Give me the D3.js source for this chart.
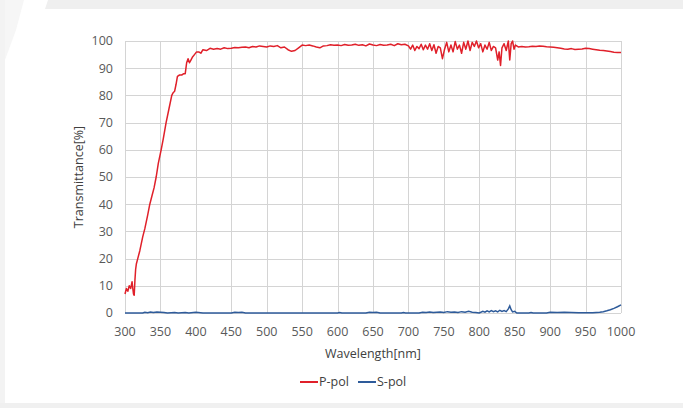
<!DOCTYPE html>
<html>
<head>
<meta charset="utf-8">
<title>Transmittance</title>
<style>
  body { margin: 0; background: #fff; }
  svg { display: block; font-family: "Open Sans", sans-serif; }
  .grid line { stroke: #d4d4d4; stroke-width: 1; }
  .tick-label { fill: #595959; font-size: 12.5px; }
  .axis-title { fill: #404040; font-size: 12.5px; }
</style>
</head>
<body>
<script src="https://cdn.jsdelivr.net/npm/d3@7"></script>
<script>
  // P-pol: [wavelength nm, transmittance %]
  var pPol = [
    [300,7],[302,9],[304,8],[306,10],[308,9],[310,11.5],[311,9],[312,7],[313,6.5],[314,12],[315,16],
    [316,18],[318,20],[321,23],[325,28],[328,31],[332,36],[335,40],[338,43],[341,46],[344,50],
    [347,55],[351,60],[354,64],[358,70],[362,75],[366,80],[368,81],[370,81.5],[372,84],[374,87],
    [377,87.5],[380,87.5],[383,88],[385,88],[387,92],[389,93.5],[391,92],[393,93],[395,94],
    [398,95],[401,96],[404,96],[407,95.5],[410,96.8],[415,96.5],[420,97.3],[425,97],
    [430,97.2],[435,97],[440,97.5],[445,97.2],[450,97.3],[455,97.6],[460,97.5],[465,97.7],[470,97.8],
    [475,97.5],[480,98],[485,97.8],[490,98.2],[495,98],[500,97.8],[505,98.2],[510,98],[515,98.3],
    [520,97.5],[525,97.8],[530,96.8],[535,96.2],[540,96.5],[545,97.5],[550,98.5],[555,98.3],
    [560,98.5],[565,98.2],[570,97.8],[575,97.5],[580,98.2],[585,98.3],[590,98.6],[595,98.4],
    [600,98.5],[605,98.3],[610,98.7],[615,98.4],[620,98.5],[625,98.8],[630,98.4],[635,98.6],
    [640,98.2],[645,98.9],[650,98.5],[655,98.3],[660,98.7],[665,98.4],[670,98.5],[675,98.8],
    [680,98.3],[685,99],[690,98.6],[695,98.8],[700,98.2],[703,97],[706,98.5],[709,96.5],[712,98],
    [715,97.2],[718,98.8],[721,96.8],[724,98.5],[727,97],[730,99],[733,96.5],[736,98.6],[739,95.5],
    [742,98],[745,97.5],[748,93.5],[751,97],[754,99.5],[757,96],[760,98.5],[763,96],[766,99.8],
    [769,97],[772,98.5],[775,95.5],[778,99.5],[781,97],[784,100],[787,96.5],[790,99.5],[793,98],
    [796,100],[799,97.5],[802,99],[805,96],[808,98.5],[811,97],[814,99.5],[817,96.5],[820,98],
    [823,97.5],[826,93],[828,96],[830,91],[832,97.5],[835,99],[838,96.5],[841,100],[843,93],
    [845,99],[847,100],[849,97],[851,98.5],[855,97.8],[860,98],[865,97.8],[870,97.9],[875,98.1],
    [880,98],[885,98.2],[890,98.1],[895,97.9],[900,97.8],[905,97.7],[910,97.5],[915,97.3],
    [920,97.1],[925,97],[930,97.2],[935,96.9],[940,97],[945,97.1],[950,97.3],[955,97.2],[960,97],
    [965,96.8],[970,96.6],[975,96.5],[980,96.3],[985,96.1],[990,95.9],[995,95.8],[1000,95.8]
  ];

  // S-pol: [wavelength nm, transmittance %]
  var sPol = [
    [300,0],[325,0],[328,0.3],[332,0.1],[336,0.4],[340,0.2],[345,0.4],[350,0.3],[355,0.2],[360,0],
    [370,0.2],[375,0],[385,0.2],[390,0],[400,0.3],[410,0],[450,0],[455,0.3],[460,0.2],[465,0.3],
    [470,0],[600,0],[603,0.2],[606,0],[640,0],[645,0.3],[650,0.2],[655,0.3],[660,0],[690,0],
    [693,0.2],[696,0],[715,0],[720,0.3],[725,0.2],[730,0.4],[735,0.2],[740,0.3],[745,0.4],[750,0.2],
    [755,0.5],[760,0.3],[765,0.4],[770,0.2],[775,0.5],[780,0.3],[785,0.6],[790,0.3],[795,0.2],
    [800,0],[805,0.6],[808,0.3],[811,0.8],[814,0.4],[817,0.9],[820,0.5],[823,0.8],[826,0.4],
    [829,1.0],[832,0.6],[835,0.9],[838,0.5],[841,1.5],[843,2.6],[845,1.2],[847,0.4],[850,0.6],
    [853,0],[870,0],[873,0.2],[876,0],[895,0],[900,0.3],[910,0.2],[920,0.3],[930,0.2],[940,0.1],
    [950,0.1],[960,0.1],[965,0.2],[970,0.3],[975,0.5],[980,0.8],[985,1.2],[990,1.7],[995,2.3],
    [1000,3.0]
  ];

  var xTicks = [300,350,400,450,500,550,600,650,700,750,800,850,900,950,1000];
  var yTicks = [0,10,20,30,40,50,60,70,80,90,100];
  var seriesNames = ["P-pol", "S-pol"];
  var seriesColors = ["#e0202a", "#2e5b9a"];

  var W = 683, H = 408;
  var margin = {top: 41, right: 62, bottom: 95, left: 125},
      width = W - margin.left - margin.right,
      height = H - margin.top - margin.bottom;

  var svg = d3.select("body").append("svg")
      .attr("width", W)
      .attr("height", H);

  // page background pieces
  svg.append("rect").attr("x", 0).attr("y", 0).attr("width", W).attr("height", H).attr("fill", "#fff");
  svg.append("polygon").attr("points", "48,0 683,0 683,9 45,9").attr("fill", "#efefef");
  svg.append("polygon").attr("points", "0,0 24,0 16,30 5,60 0,70").attr("fill", "#f6f6f6");
  svg.append("rect").attr("x", 0).attr("y", 0).attr("width", 5).attr("height", H).attr("fill", "#f3f3f3");
  svg.append("rect").attr("x", 0).attr("y", 403).attr("width", W).attr("height", 5).attr("fill", "#f0f0f0");

  var g = svg.append("g")
      .attr("transform", "translate(" + margin.left + "," + margin.top + ")");

  var x = d3.scaleLinear().domain([300, 1000]).range([0, width]);
  var y = d3.scaleLinear().domain([0, 100]).range([height, 0]);

  var grid = g.append("g").attr("class", "grid");
  grid.selectAll(".vx").data(xTicks).enter().append("line")
      .attr("x1", function (d) { return Math.round(x(d)) + 0.5; })
      .attr("x2", function (d) { return Math.round(x(d)) + 0.5; })
      .attr("y1", 0).attr("y2", height);
  grid.selectAll(".hy").data(yTicks).enter().append("line")
      .attr("x1", 0).attr("x2", width)
      .attr("y1", function (d) { return Math.round(y(d)) + 0.5; })
      .attr("y2", function (d) { return Math.round(y(d)) + 0.5; });

  // tick labels
  g.selectAll(".ylab").data(yTicks).enter().append("text")
      .attr("class", "tick-label")
      .attr("x", -12)
      .attr("y", function (d) { return y(d); })
      .attr("dy", "0.35em")
      .attr("text-anchor", "end")
      .text(function (d) { return d; });
  g.selectAll(".xlab").data(xTicks).enter().append("text")
      .attr("class", "tick-label")
      .attr("x", function (d) { return x(d); })
      .attr("y", height + 23)
      .attr("text-anchor", "middle")
      .text(function (d) { return d; });

  var line = d3.line()
      .x(function (d) { return x(d[0]); })
      .y(function (d) { return y(d[1]); });

  g.append("path").datum(sPol)
      .attr("fill", "none")
      .attr("stroke", seriesColors[1])
      .attr("stroke-width", 1.5)
      .attr("d", line);
  g.append("path").datum(pPol)
      .attr("fill", "none")
      .attr("stroke", seriesColors[0])
      .attr("stroke-width", 1.5)
      .attr("stroke-linejoin", "round")
      .attr("d", line);

  // axis titles
  g.append("text")
      .attr("class", "axis-title")
      .attr("x", width / 2)
      .attr("y", height + 45)
      .attr("text-anchor", "middle")
      .text("Wavelength[nm]");
  g.append("text")
      .attr("class", "axis-title")
      .attr("transform", "rotate(-90)")
      .attr("x", -height / 2)
      .attr("y", -42)
      .attr("text-anchor", "middle")
      .text("Transmittance[%]");

  // legend
  var legend = svg.append("g").attr("transform", "translate(300,382)");
  var item = legend.selectAll(".item").data(seriesNames).enter().append("g")
      .attr("transform", function (d, i) { return "translate(" + (i * 58) + ",0)"; });
  item.append("line")
      .attr("x1", 0).attr("x2", 18).attr("y1", 0).attr("y2", 0)
      .attr("stroke", function (d, i) { return seriesColors[i]; })
      .attr("stroke-width", 2);
  item.append("text")
      .attr("class", "axis-title")
      .attr("x", 19)
      .attr("dy", "0.35em")
      .text(function (d) { return d; });
</script>
</body>
</html>
